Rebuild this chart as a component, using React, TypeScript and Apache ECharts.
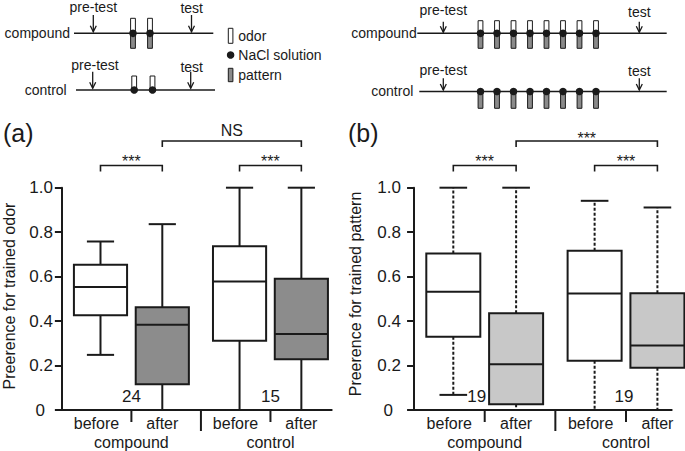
import React, { useEffect, useRef } from 'react';
import * as echarts from 'echarts';

// ---------- data ----------
const groups = ['compound', 'control'];
const conditions = ['before', 'after'];
const yTickValues = [0, 0.2, 0.4, 0.6, 0.8, 1.0];

// box statistics: [min, Q1, median, Q3, max]
const odorCompoundBefore = [0.248, 0.426, 0.553, 0.653, 0.758];
const odorCompoundAfter = [0, 0.116, 0.384, 0.462, 0.836];
const odorControlBefore = [0, 0.311, 0.578, 0.737, 1.0];
const odorControlAfter = [0, 0.228, 0.342, 0.59, 1.0];

const patternCompoundBefore = [0.068, 0.33, 0.532, 0.704, 1.0];
const patternCompoundAfter = [0, 0.026, 0.206, 0.435, 1.0];
const patternControlBefore = [0, 0.221, 0.524, 0.716, 0.941];
const patternControlAfter = [0, 0.19, 0.29, 0.525, 0.911];

const odorN = [24, 15];
const patternN = [19, 19];

// comparisons: [box index from, box index to, level]
const comparisons = [
  [0, 1, 1.1],
  [1, 3, 1.21],
  [2, 3, 1.1],
];
const odorSignificance = ['***', 'NS', '***'];
const patternSignificance = ['***', '***', '***'];

// ---------- style ----------
const INK = '#1a1a1a';
const FONT = '"Liberation Sans", Arial, Helvetica, sans-serif';
const BOX_HALF = 0.86;
const CAP_HALF = 0.44;

const boxPos = (i: number) => Math.floor(i / 2) * 4.5 + (i % 2) * 2 + 1.25;

function seg(a: number[], b: number[], dashed = false, width = 2) {
  const style: any = { stroke: INK, lineWidth: width };
  if (dashed) style.lineDash = [3, 2];
  return { type: 'line', shape: { x1: a[0], y1: a[1], x2: b[0], y2: b[1] }, style };
}

function boxSeries(ai: number, stats: number[][], fills: string[], dashed: boolean) {
  return {
    type: 'custom',
    xAxisIndex: ai,
    yAxisIndex: ai,
    clip: false,
    z: 3,
    silent: true,
    data: stats.map((s, i) => [boxPos(i), ...s]),
    encode: { x: 0, y: [1, 2, 3, 4, 5] },
    renderItem: (params: any, api: any) => {
      const x = api.value(0);
      const mn = api.value(1), q1 = api.value(2), md = api.value(3), q3 = api.value(4), mx = api.value(5);
      const P = (xx: number, yy: number) => api.coord([xx, yy]);
      const tl = P(x - BOX_HALF, q3);
      const br = P(x + BOX_HALF, q1);
      return {
        type: 'group',
        children: [
          seg(P(x, q3), P(x, mx), dashed),
          seg(P(x, q1), P(x, mn), dashed),
          seg(P(x - CAP_HALF, mx), P(x + CAP_HALF, mx)),
          seg(P(x - CAP_HALF, mn), P(x + CAP_HALF, mn)),
          {
            type: 'rect',
            shape: { x: tl[0], y: tl[1], width: br[0] - tl[0], height: br[1] - tl[1] },
            style: { fill: fills[params.dataIndex], stroke: INK, lineWidth: 2 },
          },
          seg(P(x - BOX_HALF, md), P(x + BOX_HALF, md)),
        ],
      };
    },
  };
}

function decorSeries(ai: number, nLabels: number[], nDx: number[]) {
  return {
    type: 'custom',
    xAxisIndex: ai,
    yAxisIndex: ai,
    clip: false,
    z: 4,
    silent: true,
    data: [[0, 0]],
    renderItem: (params: any, api: any) => {
      const children: any[] = [];
      const y0 = api.coord([0, 0])[1];
      const txt = (t: string, x: number, y: number, size: number) => ({
        type: 'text',
        x,
        y,
        style: { text: t, fill: INK, fontSize: size, fontFamily: FONT, align: 'center', verticalAlign: 'middle' },
      });
      groups.forEach((g, gi) => {
        const mid = (boxPos(gi * 2) + boxPos(gi * 2 + 1)) / 2;
        const xm = api.coord([mid, 0])[0];
        children.push(seg([xm, y0], [xm, y0 + 12]));
        children.push(txt(g, xm, y0 + 32, 16));
        children.push(txt(String(nLabels[gi]), xm + nDx[gi], y0 - 13.5, 17));
        conditions.forEach((c, ci) => {
          const xc = api.coord([boxPos(gi * 2 + ci), 0])[0];
          children.push(txt(c, xc + (ci === 0 ? -4 : 0), y0 + 13.5, 16));
        });
      });
      const between = (boxPos(1) + boxPos(2)) / 2;
      const xb = api.coord([between, 0])[0];
      children.push(seg([xb, y0], [xb, y0 + 21]));
      return { type: 'group', children };
    },
  };
}

function bracketSeries(ai: number, labels: string[]) {
  return {
    type: 'custom',
    xAxisIndex: ai,
    yAxisIndex: ai,
    clip: false,
    z: 4,
    silent: true,
    data: comparisons.map((c) => [boxPos(c[0]), boxPos(c[1]), c[2]]),
    renderItem: (params: any, api: any) => {
      const a = api.coord([api.value(0), api.value(2)]);
      const b = api.coord([api.value(1), api.value(2)]);
      const label = labels[params.dataIndex];
      const isStar = label === '***';
      const high = api.value(2) > 1.15;
      const dy = isStar ? (high ? -2.5 : -3.7) : -11;
      return {
        type: 'group',
        children: [
          {
            type: 'polyline',
            shape: { points: [[a[0], a[1] + 6], a, b, [b[0], b[1] + 6]] },
            style: { stroke: INK, lineWidth: 1.6, fill: null },
          },
          {
            type: 'text',
            x: (a[0] + b[0]) / 2,
            y: a[1] + dy,
            style: { text: label, fill: INK, fontSize: 16, fontFamily: FONT, align: 'center', verticalAlign: 'middle' },
          },
        ],
      };
    },
  };
}

function yAxisCfg(gi: number) {
  return {
    gridIndex: gi,
    type: 'value',
    min: 0,
    max: 1,
    interval: 0.2,
    axisLine: { show: true, lineStyle: { color: INK, width: 2 } },
    axisTick: { show: true, length: 7, lineStyle: { color: INK, width: 2 } },
    splitLine: { show: false },
    axisLabel: {
      fontSize: 17,
      color: INK,
      fontFamily: FONT,
      margin: 8,
      customValues: yTickValues,
      formatter: (v: number) => (Math.abs(v) < 1e-9 ? '{z|0}' : v.toFixed(1)),
      rich: { z: { fontSize: 17, color: INK, fontFamily: FONT, padding: [0, 8, 0, 0] } },
    },
  };
}

function xAxisCfg(gi: number, min: number, max: number) {
  return {
    gridIndex: gi,
    type: 'value',
    min,
    max,
    axisLine: { show: true, onZero: false, lineStyle: { color: INK, width: 2 } },
    axisTick: { show: false },
    axisLabel: { show: false },
    splitLine: { show: false },
  };
}

// ---------- schematic helpers (graphic, pixels) ----------
function gText(t: string, x: number, y: number, align: string, size = 14, extra: any = {}) {
  return {
    type: 'text',
    x,
    y,
    ...extra,
    style: { text: t, fill: INK, fontSize: size, fontFamily: FONT, align, verticalAlign: 'middle' },
  };
}
function gLine(x1: number, y1: number, x2: number, y2: number, w = 1.4) {
  return { type: 'line', shape: { x1, y1, x2, y2 }, style: { stroke: INK, lineWidth: w } };
}
function gArrow(x: number, y1: number, y2: number) {
  return [
    gLine(x, y1, x, y2, 1.3),
    {
      type: 'polyline',
      shape: { points: [[x - 3, y2 - 6], [x, y2], [x + 3, y2 - 6]] },
      style: { stroke: INK, lineWidth: 1.3, fill: null },
    },
  ];
}
function gRect(x: number, y1: number, y2: number, fill: string) {
  return {
    type: 'rect',
    shape: { x: x - 2.4, y: y1, width: 4.8, height: y2 - y1 },
    style: { fill, stroke: INK, lineWidth: 1 },
  };
}
function gDot(x: number, y: number) {
  return { type: 'circle', shape: { cx: x, cy: y, r: 3.8 }, style: { fill: INK } };
}

const PAT_GRAY = '#8a8a8a';

function schematic() {
  const els: any[] = [];
  // left, compound
  els.push(gText('compound', 70, 33.3, 'right'));
  els.push(gLine(74, 33.3, 213.3, 33.3));
  els.push(gText('pre-test', 93.3, 7, 'center'));
  els.push(...gArrow(93.3, 15, 31.7));
  els.push(gText('test', 191.7, 8.3, 'center'));
  els.push(...gArrow(191.5, 15, 31.7));
  [133, 150].forEach((x) => {
    els.push(gRect(x, 18.3, 31.7, '#ffffff'));
    els.push(gRect(x, 33.3, 48.3, PAT_GRAY));
    els.push(gDot(x, 33.3));
  });
  // left, control
  els.push(gText('control', 66.7, 90, 'right'));
  els.push(gLine(76, 90, 215, 90));
  els.push(gText('pre-test', 95, 65, 'center'));
  els.push(...gArrow(92.7, 71.7, 88.3));
  els.push(gText('test', 191.7, 66.7, 'center'));
  els.push(...gArrow(190.7, 71.7, 88.3));
  [134.2, 152.5].forEach((x) => {
    els.push(gRect(x, 76, 89.3, '#ffffff'));
    els.push(gDot(x, 90));
  });
  // legend
  els.push({ type: 'rect', shape: { x: 228.3, y: 28.3, width: 4.6, height: 15 }, style: { fill: '#fff', stroke: INK, lineWidth: 1 } });
  els.push(gText('odor', 238.3, 36.3, 'left'));
  els.push(gDot(230.6, 55));
  els.push(gText('NaCl solution', 238.3, 55, 'left'));
  els.push({ type: 'rect', shape: { x: 228.3, y: 68.3, width: 4.6, height: 13.4 }, style: { fill: PAT_GRAY, stroke: INK, lineWidth: 1 } });
  els.push(gText('pattern', 238.3, 75, 'left'));
  // right, compound
  els.push(gText('compound', 416.7, 33.3, 'right'));
  els.push(gLine(417.3, 33.3, 666.7, 33.3));
  els.push(gText('pre-test', 443.3, 10, 'center'));
  els.push(...gArrow(443.3, 21.7, 32.3));
  els.push(gText('test', 639.3, 11.7, 'center'));
  els.push(...gArrow(639.3, 21.7, 32.3));
  const rightPulses = [480.5, 497, 513.5, 530, 546.5, 563, 579.5, 596];
  rightPulses.forEach((x) => {
    els.push(gRect(x, 20.7, 31.7, '#ffffff'));
    els.push(gRect(x, 33.3, 48.3, PAT_GRAY));
    els.push(gDot(x, 33.3));
  });
  // right, control
  els.push(gText('control', 413.3, 90.5, 'right'));
  els.push(gLine(419.3, 91.5, 666.7, 91.5));
  els.push(gText('pre-test', 443.3, 70, 'center'));
  els.push(...gArrow(443.3, 78.3, 90));
  els.push(gText('test', 639.3, 70.7, 'center'));
  els.push(...gArrow(639.3, 78.3, 90));
  rightPulses.forEach((x) => {
    els.push(gRect(x, 91.5, 108.3, PAT_GRAY));
    els.push(gDot(x, 91.5));
  });
  // panel letters and y titles
  els.push(gText('(a)', 3, 133, 'left', 25));
  els.push(gText('(b)', 348, 133, 'left', 25));
  els.push(gText('Preerence for trained odor', 9, 296, 'center', 16, { rotation: Math.PI / 2 }));
  els.push(gText('Preerence for trained pattern', 355, 294, 'center', 16, { rotation: Math.PI / 2 }));
  return els;
}

export default function App() {
  const ref = useRef<HTMLDivElement>(null);
  useEffect(() => {
    if (!ref.current) return;
    const chart = echarts.init(ref.current, undefined, { renderer: 'svg' });
    const odorStats = [odorCompoundBefore, odorCompoundAfter, odorControlBefore, odorControlAfter];
    const patternStats = [patternCompoundBefore, patternCompoundAfter, patternControlBefore, patternControlAfter];
    chart.setOption({
      animation: false,
      backgroundColor: '#ffffff',
      grid: [
        { left: 61, top: 187.7, width: 270.7, height: 222.3 },
        { left: 409, top: 187.7, width: 262.7, height: 222.3 },
      ],
      xAxis: [xAxisCfg(0, -0.028, 8.732), xAxisCfg(1, -0.161, 8.205)],
      yAxis: [yAxisCfg(0), yAxisCfg(1)],
      graphic: { elements: schematic() },
      series: [
        boxSeries(0, odorStats, ['#ffffff', '#8c8c8c', '#ffffff', '#8c8c8c'], false),
        boxSeries(1, patternStats, ['#ffffff', '#c8c8c8', '#ffffff', '#c8c8c8'], true),
        decorSeries(0, odorN, [0, 0]),
        decorSeries(1, patternN, [-8, -2]),
        bracketSeries(0, odorSignificance),
        bracketSeries(1, patternSignificance),
      ],
    });
    return () => chart.dispose();
  }, []);
  return <div ref={ref} style={{ position: 'fixed', left: 0, top: 0, width: 685, height: 451 }} />;
}
